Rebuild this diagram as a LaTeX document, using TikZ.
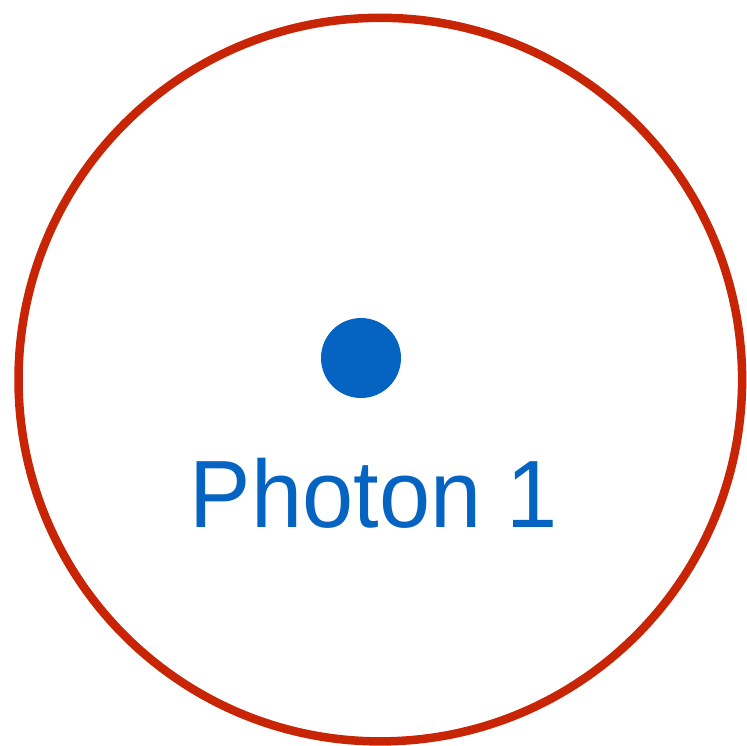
\documentclass[tikz,border=0pt]{standalone}
\usepackage{fontspec}
\setmainfont{Liberation Sans}
\definecolor{ringred}{RGB}{200,37,6}
\definecolor{photonblue}{RGB}{5,99,193}
\tikzset{
  ring/.style={draw=ringred, line width=8.5pt},
  photondot/.style={circle, fill=photonblue, minimum size=80pt, inner sep=0pt},
  photonlabel/.style={text=photonblue, font=\fontsize{92}{96}\selectfont, inner sep=0pt, anchor=base}
}
\begin{document}
\begin{tikzpicture}[x=1pt,y=-1pt]
\useasboundingbox (0,0) rectangle (747,745);
\node[ring, circle, minimum size=723.6pt, inner sep=0pt] (ring) at (380.3,379.6) {};
\node[photondot] (dot) at (361,358) {};
\node[photonlabel, yscale=1.04] (label) at (374,527) {Photon 1};
\end{tikzpicture}
\end{document}
